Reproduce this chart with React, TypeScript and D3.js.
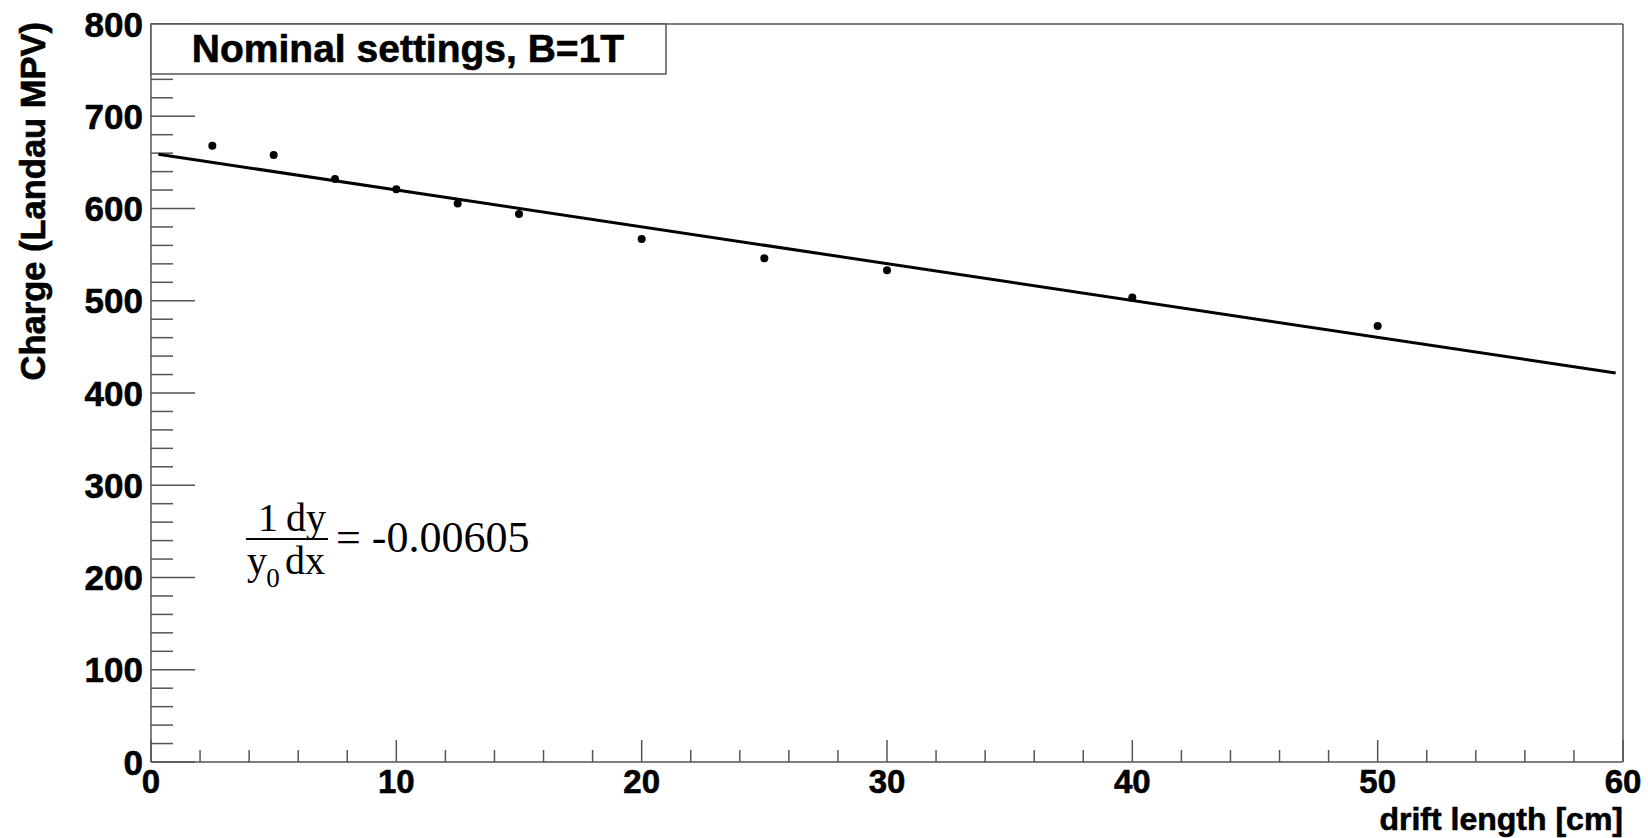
import React from 'react';
import * as d3 from 'd3';

// measured points (drift length in cm, Landau MPV)
const driftLength = [2.5, 5, 7.5, 10, 12.5, 15, 20, 25, 30, 40, 50];
const charge = [668, 658, 632, 621, 605.5, 594, 567, 546, 533, 503.5, 472.5];

// linear fit
const fitIntercept = 660;
const fitSlopeRel = -0.00605;
const fitRange = [0.3, 59.7];

const xTicks = [0, 10, 20, 30, 40, 50, 60];
const yTicks = [0, 100, 200, 300, 400, 500, 600, 700, 800];

const W = 1648;
const H = 838;
const margin = { left: 151, right: 25, top: 24, bottom: 76 };

const App = () => {
  const x = d3.scaleLinear().domain([0, 60]).range([margin.left, W - margin.right]);
  const y = d3.scaleLinear().domain([0, 800]).range([H - margin.bottom, margin.top]);

  const xMinor = d3.range(0, 60.001, 2);
  const yMinor = d3.range(0, 800.001, 20);

  const fitLine = d3.line<number>()
    .x(d => x(d))
    .y(d => y(fitIntercept + fitIntercept * fitSlopeRel * d));

  const axisColor = '#555';
  const sans = '"Liberation Sans", Arial, Helvetica, sans-serif';
  const serif = '"Liberation Serif", "Times New Roman", serif';
  const x0 = x(0), x1 = x(60), y0 = y(0), y1 = y(800);
  // heavier bold, like the raster original
  const bold = { fontFamily: sans, fontWeight: 'bold' as const, stroke: '#000', strokeWidth: 0.6 };

  return (
    <svg width={W} height={H} style={{ position: 'absolute', left: 0, top: 0, background: '#fff' }}>
      {/* frame */}
      <line x1={x0} y1={y1} x2={x1} y2={y1} stroke={axisColor} strokeWidth={1.5} />
      <line x1={x1} y1={y1} x2={x1} y2={y0} stroke={axisColor} strokeWidth={1.5} />

      {/* y ticks */}
      {yMinor.map(v => {
        const major = v % 100 === 0;
        return <line key={'ym' + v} x1={x0} x2={x0 + (major ? 44 : 22)} y1={y(v)} y2={y(v)}
          stroke={axisColor} strokeWidth={1.5} />;
      })}
      {/* x ticks */}
      {xMinor.map(v => {
        const major = v % 10 === 0;
        return <line key={'xm' + v} x1={x(v)} x2={x(v)} y1={y0} y2={y0 - (major ? 22 : 12)}
          stroke={axisColor} strokeWidth={1.5} />;
      })}
      <line x1={x0} y1={y0} x2={x1} y2={y0} stroke={axisColor} strokeWidth={1.5} />
      <line x1={x0} y1={y0} x2={x0} y2={y1} stroke={axisColor} strokeWidth={1.5} />

      {/* tick labels */}
      {yTicks.map(v => (
        <text key={'yl' + v} x={x0 - 8} y={y(v)} dy="0.36em" textAnchor="end"
          {...bold} fontSize={35}>{v}</text>
      ))}
      {xTicks.map(v => (
        <text key={'xl' + v} x={x(v)} y={y0 + 31} textAnchor="middle"
          {...bold} fontSize={33}>{v}</text>
      ))}

      {/* axis titles */}
      <text x={x1} y={H - 8} textAnchor="end" {...bold} fontSize={32}>
        drift length [cm]
      </text>
      <text transform={`translate(45, ${y1 - 2}) rotate(-90)`} textAnchor="end"
        {...bold} fontSize={34.5}>
        Charge (Landau MPV)
      </text>

      {/* fit */}
      <path d={fitLine(fitRange) || ''} fill="none" stroke="#000" strokeWidth={3} />

      {/* points */}
      {driftLength.map((d, i) => (
        <circle key={'p' + i} cx={x(d)} cy={y(charge[i])} r={4} fill="#000" />
      ))}

      {/* title box */}
      <rect x={x0} y={y1} width={515} height={50} fill="#fff" stroke={axisColor} strokeWidth={1.5} />
      <text x={x0 + 257} y={y1 + 38} textAnchor="middle" {...bold} fontSize={39}>
        Nominal settings, B=1T
      </text>

      {/* slope annotation */}
      <g fontFamily={serif} fill="#000">
        <text x={268} y={531} textAnchor="middle" fontSize={40}>1</text>
        <text x={306} y={531} textAnchor="middle" fontSize={40}>dy</text>
        <line x1={246} x2={328} y1={539} y2={539} stroke="#000" strokeWidth={2} />
        <text x={257} y={574} textAnchor="middle" fontSize={40}>y</text>
        <text x={273} y={587} textAnchor="middle" fontSize={27}>0</text>
        <text x={305} y={574} textAnchor="middle" fontSize={40}>dx</text>
        <text x={336} y={552} fontSize={44}>= -0.00605</text>
      </g>
    </svg>
  );
};

export default App;
